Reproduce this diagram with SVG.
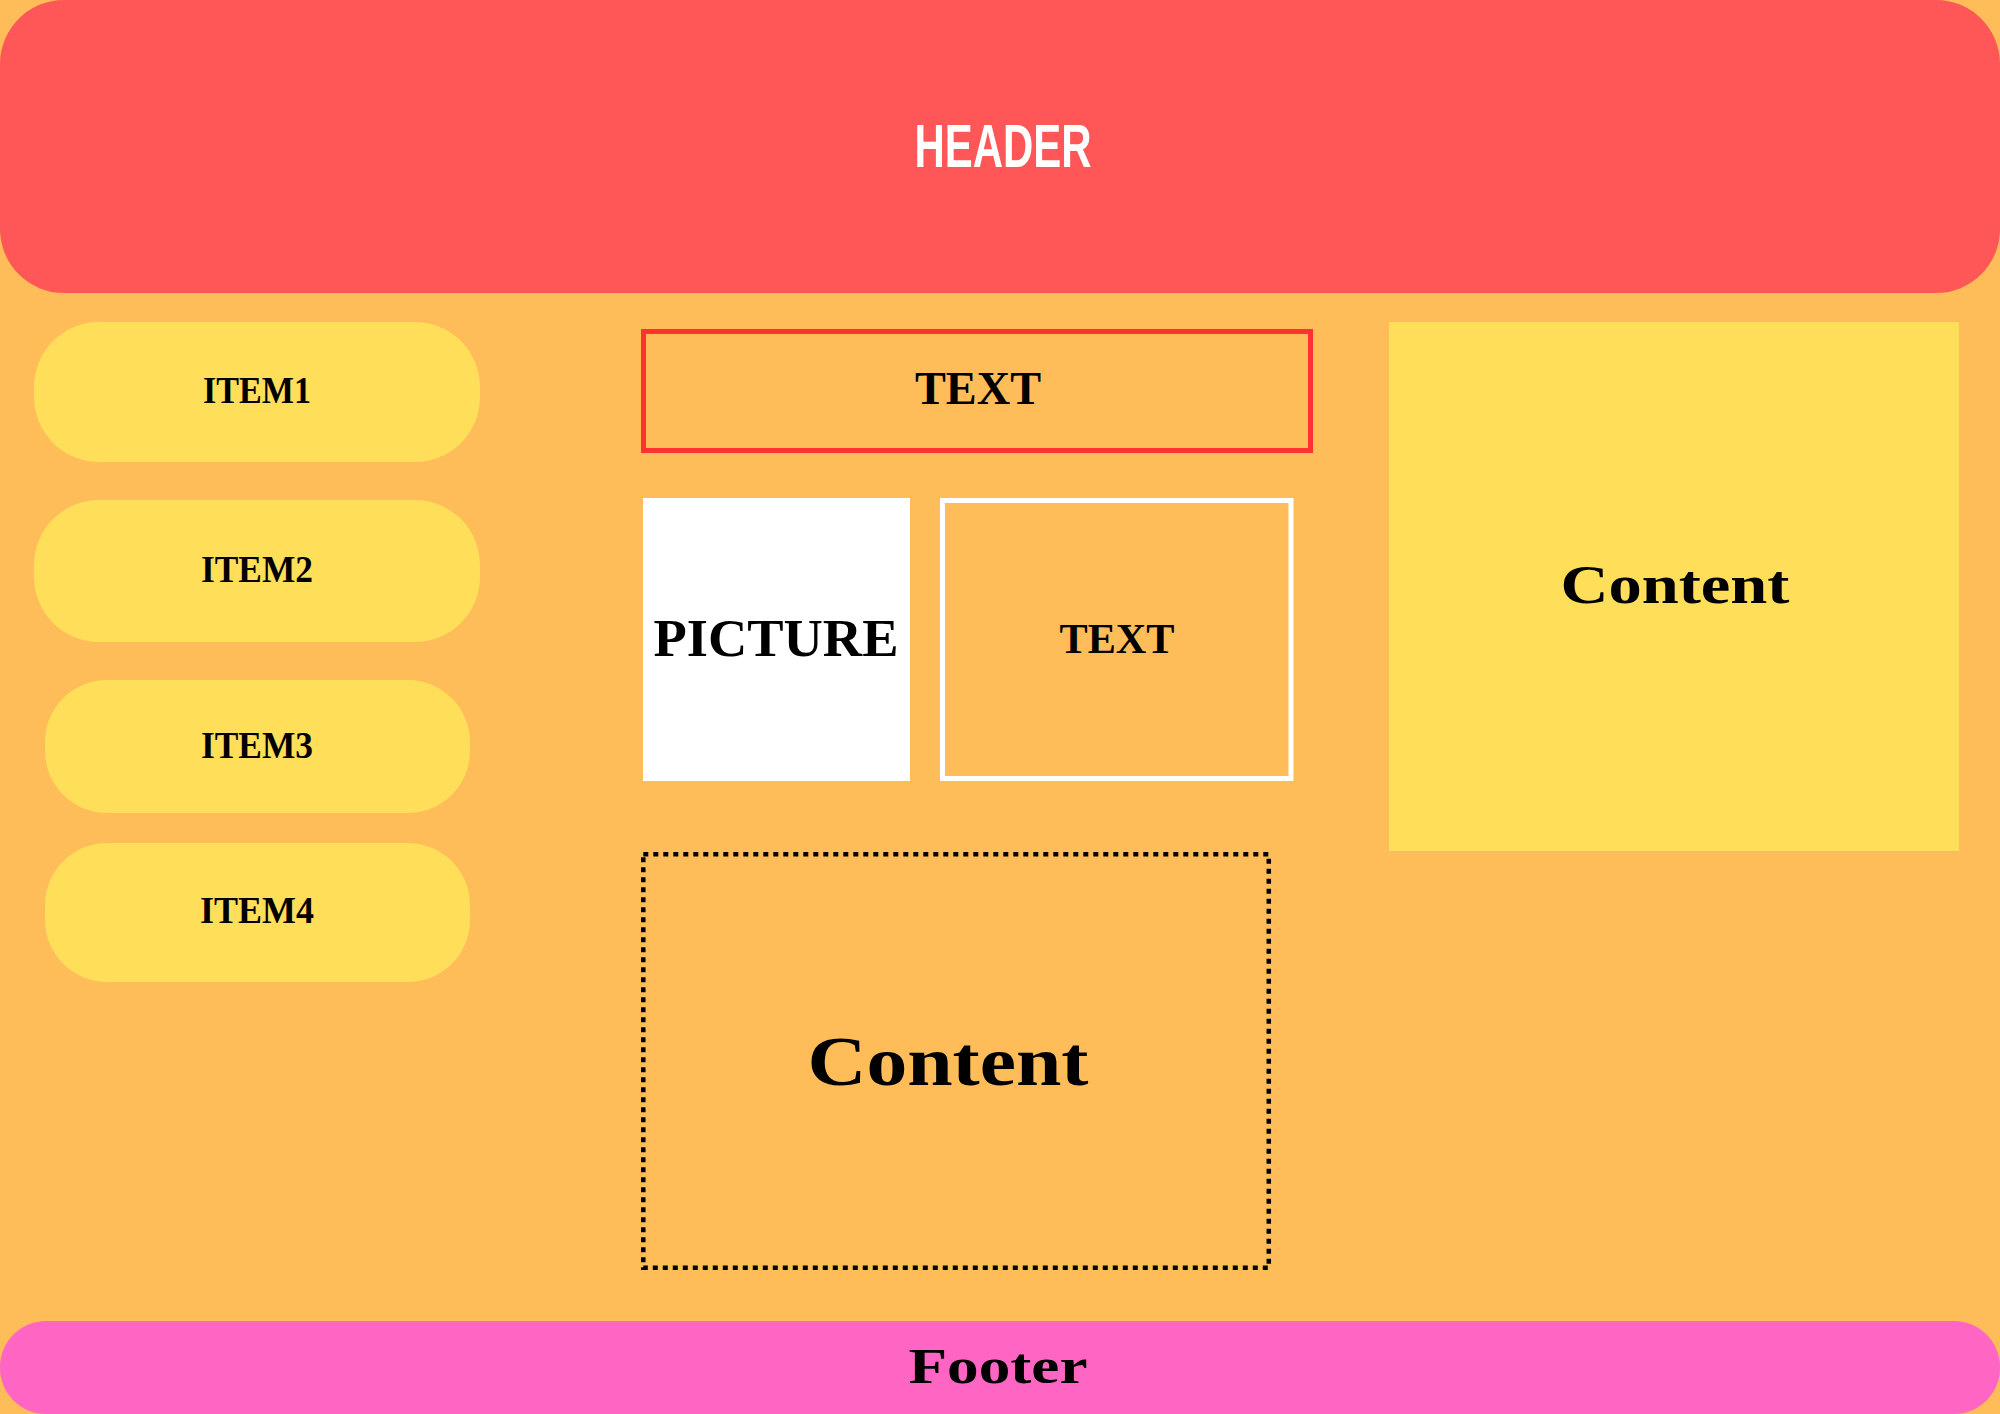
<svg xmlns="http://www.w3.org/2000/svg" width="2000" height="1414" viewBox="0 0 2000 1414">
  <style>
    .lbl { font-family: "Liberation Serif", "DejaVu Serif", serif; font-weight: bold; fill: #000000; text-anchor: middle; }
    .pill { fill: #FFDE59; }
  </style>
  <rect x="0" y="0" width="2000" height="1414" fill="#FFBD59"/>

  <g id="header">
    <rect x="0" y="0" width="2000" height="293" rx="64" ry="64" fill="#FF5757"/>
    <text x="1003" y="167" font-family="'Liberation Sans Narrow', 'Liberation Sans', sans-serif" font-weight="bold" font-size="61" fill="#FFFFFF" text-anchor="middle" textLength="177" lengthAdjust="spacingAndGlyphs">HEADER</text>
  </g>

  <g id="item1">
    <rect class="pill" x="34" y="322" width="446" height="140" rx="65" ry="65"/>
    <text class="lbl" x="257" y="403" font-size="37" textLength="108" lengthAdjust="spacingAndGlyphs">ITEM1</text>
  </g>
  <g id="item2">
    <rect class="pill" x="34" y="500" width="446" height="142" rx="65" ry="65"/>
    <text class="lbl" x="257" y="582" font-size="37" textLength="112" lengthAdjust="spacingAndGlyphs">ITEM2</text>
  </g>
  <g id="item3">
    <rect class="pill" x="45" y="680" width="425" height="133" rx="62" ry="62"/>
    <text class="lbl" x="257" y="758" font-size="37" textLength="112" lengthAdjust="spacingAndGlyphs">ITEM3</text>
  </g>
  <g id="item4">
    <rect class="pill" x="45" y="843" width="425" height="139" rx="62" ry="62"/>
    <text class="lbl" x="257" y="923" font-size="37" textLength="114" lengthAdjust="spacingAndGlyphs">ITEM4</text>
  </g>

  <g id="text-top">
    <rect x="643.5" y="331.5" width="667" height="119" fill="none" stroke="#FF3131" stroke-width="5"/>
    <text class="lbl" x="978" y="404" font-size="47" textLength="126" lengthAdjust="spacingAndGlyphs">TEXT</text>
  </g>

  <g id="picture">
    <rect x="643" y="498" width="267" height="283" fill="#FFFFFF"/>
    <text class="lbl" x="776" y="656" font-size="53" textLength="245" lengthAdjust="spacingAndGlyphs">PICTURE</text>
  </g>

  <g id="text-side">
    <rect x="942.5" y="500.5" width="348.5" height="278" fill="none" stroke="#FFFFFF" stroke-width="5"/>
    <text class="lbl" x="1117" y="653" font-size="42" textLength="115" lengthAdjust="spacingAndGlyphs">TEXT</text>
  </g>

  <g id="content-right">
    <rect x="1389" y="322" width="570" height="529" fill="#FFDE59"/>
    <text class="lbl" x="1675" y="603" font-size="55" textLength="229" lengthAdjust="spacingAndGlyphs">Content</text>
  </g>

  <g id="content-main">
    <rect x="643.3" y="854.2" width="625.5" height="413.5" fill="none" stroke="#000000" stroke-width="4.5" stroke-dasharray="5 5"/>
    <text class="lbl" x="948" y="1085" font-size="69" textLength="281" lengthAdjust="spacingAndGlyphs">Content</text>
  </g>

  <g id="footer">
    <rect x="0" y="1321" width="2000" height="93" rx="46" ry="46" fill="#FF66C4"/>
    <text class="lbl" x="998" y="1383" font-size="51" textLength="179" lengthAdjust="spacingAndGlyphs">Footer</text>
  </g>

  <g id="connectors"/>
</svg>
